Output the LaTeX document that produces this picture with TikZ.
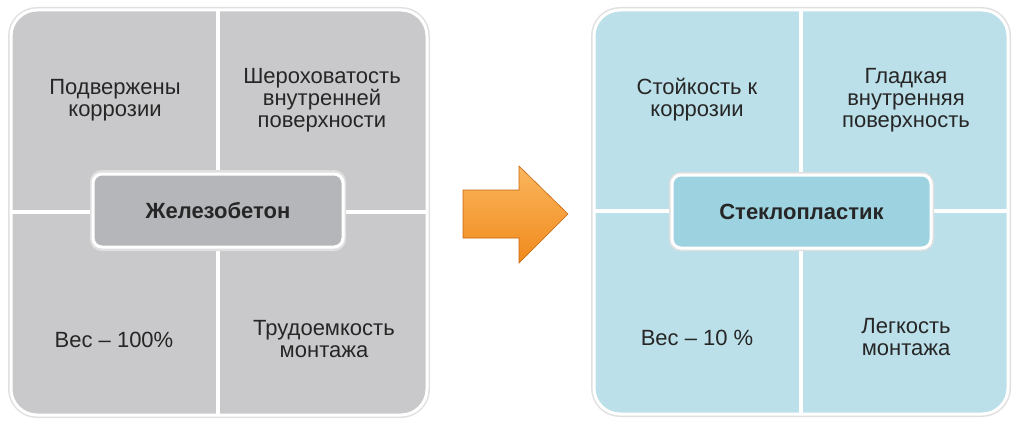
\documentclass[tikz,border=0pt]{standalone}
\usepackage{fontspec}
\setmainfont{Liberation Sans}
\usetikzlibrary{calc}
\definecolor{txt}{HTML}{262626}
\definecolor{grayq}{HTML}{C9C9CB}
\definecolor{graybox}{HTML}{B5B6B9}
\definecolor{blueq}{HTML}{BCE0E9}
\definecolor{bluebox}{HTML}{9DD2E0}
\definecolor{arrtop}{HTML}{FBB65E}
\definecolor{arrbot}{HTML}{F08A1C}
\definecolor{arredge}{HTML}{C7650E}
\tikzset{
  panel/.style={rounded corners=26pt, line width=3pt, draw=white},
  halo/.style={rounded corners=26pt, line width=6pt, draw=black!12},
  divider/.style={draw=white, line width=4pt},
  centerbox/.style={rounded corners=9pt, line width=3pt, draw=white, minimum height=73pt,
     font=\fontsize{22}{24}\selectfont\bfseries, text=txt},
  boxhalo/.style={rounded corners=9pt, line width=6pt, draw=black!12},
  quadtext/.style={align=center, font=\fontsize{22}{22}\selectfont, text=txt},
}
\begin{document}
\begin{tikzpicture}[x=1pt,y=1pt]
\useasboundingbox (0,0) rectangle (1024,429);
% ---------- left panel ----------
\draw[halo] (11,14) rectangle (427,419);
\fill[grayq, panel] (11,14) rectangle (427,419);
\draw[divider] (218,14) -- (218,419);
\draw[divider] (11,217) -- (427,217);
\draw[boxhalo] (93,181) rectangle (343,256);
\node[centerbox, fill=graybox, minimum width=250pt] (lc) at (218,218.5) {Железобетон};
\node[quadtext] (l1) at (115,329) {Подвержены\\коррозии};
\node[quadtext] (l2) at (322,329) {Шероховатость\\внутренней\\поверхности};
\node[quadtext] (l3) at (114,89) {Вес – 100\%};
\node[quadtext] (l4) at (324,90) {Трудоемкость\\монтажа};
% ---------- right panel ----------
\draw[halo] (594,15) rectangle (1008,419);
\fill[blueq, panel] (594,15) rectangle (1008,419);
\draw[divider] (801,15) -- (801,419);
\draw[divider] (594,218) -- (1008,218);
\draw[boxhalo] (672,181) rectangle (931,254);
\node[centerbox, fill=bluebox, minimum width=259pt] (rc) at (801.5,217.5) {Стеклопластик};
\node[quadtext] (r1) at (697,329) {Стойкость к\\коррозии};
\node[quadtext] (r2) at (906,329) {Гладкая\\внутренняя\\поверхность};
\node[quadtext] (r3) at (697,91) {Вес – 10 \%};
\node[quadtext] (r4) at (906,92) {Легкость\\монтажа};
% ---------- arrow ----------
\shade[top color=arrtop, bottom color=arrbot, draw=arredge, line width=0.6pt, line join=miter]
  (463,191) -- (463,239) -- (519,239) -- (519,263) -- (568,215) -- (519,166) -- (519,191) -- cycle;
\end{tikzpicture}
\end{document}
